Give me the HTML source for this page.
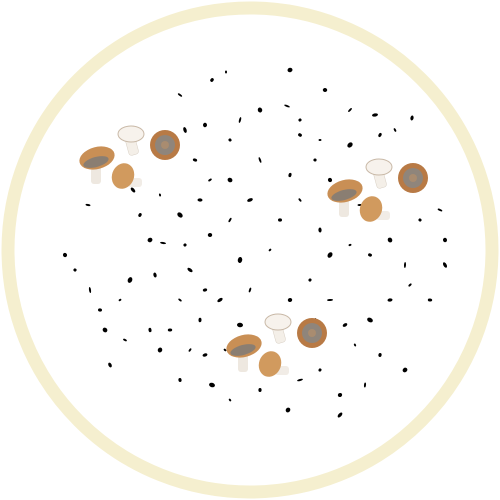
<!DOCTYPE html>
<html><head><meta charset="utf-8"><style>html,body{margin:0;padding:0;background:#fff}svg{display:block}</style></head>
<body>
<svg width="500" height="500" viewBox="0 0 500 500">
<circle cx="250" cy="250" r="242" fill="#fff" stroke="#f5efcf" stroke-width="13"/>
<g id="specks" fill="#000"></g>
<defs>
<g id="cluster">
  <rect x="91" y="162" width="10" height="22" rx="3" fill="#eee8e0"/>
  <ellipse cx="97" cy="158" rx="18" ry="11" transform="rotate(-15 97 158)" fill="#c98f55"/>
  <ellipse cx="96" cy="162" rx="13" ry="5" transform="rotate(-15 96 162)" fill="#8a7e72"/>
  <rect x="127" y="137" width="10" height="18" rx="3" transform="rotate(-15 132 146)" fill="#f4efe8" stroke="#d8cfc4" stroke-width="0.5"/>
  <ellipse cx="131" cy="134" rx="13" ry="8" fill="#f7f2ec" stroke="#c8b8a6" stroke-width="1"/>
  <circle cx="165" cy="145" r="15" fill="#b87a45"/>
  <circle cx="165" cy="145" r="10" fill="#8f857b"/>
  <circle cx="165" cy="145" r="4" fill="#a98c70"/>
  <rect x="128" y="178" width="14" height="9" rx="3" fill="#f1ece6"/>
  <ellipse cx="123" cy="176" rx="11" ry="13" transform="rotate(20 123 176)" fill="#d19a5e"/>
</g>
</defs>
<use href="#cluster"/>
<use href="#cluster" transform="translate(248 33)"/>
<use href="#cluster" transform="translate(147 188)"/>
</svg>
<script>
const pts=[[226,72],[212,80],[290,70],[287,106],[300,120],[325,90],[350,110],[375,115],[380,135],[395,130],[412,118],[350,145],[320,140],[300,135],[260,110],[240,120],[230,140],[205,125],[180,95],[185,130],[195,160],[210,180],[200,200],[180,215],[160,195],[140,215],[150,240],[163,243],[185,245],[210,235],[230,220],[250,200],[290,175],[300,200],[320,230],[330,255],[350,245],[370,255],[390,240],[405,265],[420,220],[445,240],[440,210],[445,265],[430,300],[410,285],[390,300],[370,320],[355,345],[380,355],[405,370],[330,300],[310,280],[290,300],[250,290],[220,300],[200,320],[180,300],[155,275],[130,280],[120,300],[100,310],[105,330],[90,290],[75,270],[65,255],[88,205],[133,190],[170,330],[190,350],[205,355],[212,385],[230,400],[260,390],[288,410],[300,380],[320,370],[340,395],[365,385],[340,415],[150,330],[125,340],[110,365],[240,260],[270,250],[280,220],[230,180],[260,160],[315,160],[330,180],[360,205],[190,270],[205,290],[315,320],[345,325],[240,325],[225,350],[180,380],[160,350]];
const g=document.getElementById('specks');
pts.forEach((p,i)=>{const e=document.createElementNS('http://www.w3.org/2000/svg','ellipse');


e.setAttribute('cx',p[0]);e.setAttribute('cy',p[1]);
e.setAttribute('rx',1+(i%3)*0.6);e.setAttribute('ry',1.5+(i%4)*0.5);
e.setAttribute('transform','rotate('+(i*37%180)+' '+p[0]+' '+p[1]+')');g.appendChild(e);});
</script>
</body></html>
